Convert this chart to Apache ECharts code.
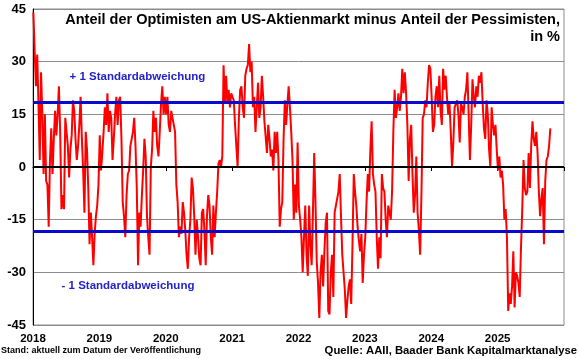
<!DOCTYPE html>
<html>
<head>
<meta charset="utf-8">
<script src="https://cdn.jsdelivr.net/npm/echarts@6/dist/echarts.min.js"></script>
<style>
html,body{margin:0;padding:0;background:#fff;}
#chart{width:580px;height:359px;}
</style>
</head>
<body>
<div id="chart"></div>
<script>
// Weekly AAII bull-bear spread (in %), one array per year
const y2018 = [44, 33, 23, 32, 18, 2, 27, 15, -2, 15, -4, -5, -17,
  2, 11, -2, 8, 16, 9, 15, 23, 10, -12, -8, -12, 14,
  10, 6, -3, 5, 9, 19, 16, 8, 2, 6, 12, 20, 8,
  -1, -13, 10, 5, -6, -22, -13, -20, -28, -19, -14, -11, -5];
const y2019 = [9, -1, 4, 10, 17, 12, 21, 10, 16, 14, 2, 8, 15,
  20, 12, 19, 20, 8, -10, -14, -20, -8, -2, -1, 6, 8,
  10, 14, 6, -6, -28, -13, -17, -8, -1, 8, 3, -14, -20,
  -25, 0, 5, 16, 10, 14, 6, 3, 10, 18, 23, 15, 20];
const y2020 = [15, 20, 12, 10, 16, 14, 12, 10, -5, -10, -20, -17, -19,
  -10, -13, -18, -25, -29, -20, -15, -3, -6, -14, -25, -15, -20,
  -26, -28, -13, -12, -18, -28, -14, -8, -11, -20, -25, -11, -20,
  -13, -7, 1, 2, 0, 3, 29, 18, 26, 18, 22, 17, 21];
const y2021 = [21, 19, 12, 6, 0, 14, 22, 23, 17, 14, 26, 28, 29,
  35, 27, 30, 17, 20, 10, 10, 24, 14, 17, 26, 20, 13,
  13, 4, 12, 8, 3, 5, -1, 10, 4, 10, 2, -17, -12,
  -10, 8, 19, 12, 18, 23, 17, 10, 2, -15, -5, -13, 7];
const y2022 = [-11, -15, -20, -30, -20, -11, -25, -31, -11, -22, -28, -13, 4,
  -10, -27, -33, -43, -30, -25, -34, -24, -16, -13, -41, -42, -30,
  -25, -37, -13, -11, -9, -7, -2, -14, -25, -30, -35, -43, -38,
  -34, -32, -39, -22, -2, -7, -11, -17, -21, -24, -19, -33, -25];
const y2023 = [-20, -10, -2, -7, 5, 13, -2, -5, -7, -20, -29, -20, -26,
  -2, -6, -7, -15, -20, -11, -13, -15, -7, 10, 22, 14, 17,
  21, 16, 20, 28, 21, 27, 21, 12, -4, 8, 12, -2, -13,
  -8, 3, -13, -18, -25, -8, 14, 15, 19, 17, 24, 29, 28];
const y2024 = [20, 10, 12, 20, 23, 17, 26, 16, 12, 28, 22, 26, 20,
  15, 18, 10, 0, 7, 17, 18, 19, 15, 7, 18, 17, 15,
  20, 22, 27, 15, 2, 12, 25, 20, 17, 23, 20, 26, 24,
  27, 18, 11, 8, 19, 15, 5, 0, 17, 12, 9, 12, 5];
const y2025 = [-1, 3, -3, -1, -5, -15, -12, -20, -41, -36, -39, -34, -24,
  -40, -30, -31, -33, -37, -23, -12, 2, -6, -8, -7, 4, -6,
  6, 13, 8, 6, 10, 4, -7, -14, -9, -6, -22, -4, 2, 3, 6, 11];

const years = [2018, 2019, 2020, 2021, 2022, 2023, 2024, 2025];
const yearly = [y2018, y2019, y2020, y2021, y2022, y2023, y2024, y2025];
const yTicks = [-45, -30, -15, 0, 15, 30, 45];
const sdUpper = 18.4;
const sdLower = -18.4;

const titleText = 'Anteil der Optimisten am US-Aktienmarkt minus Anteil der Pessimisten,\nin %';
const sdUpperLabel = '+ 1 Standardabweichung';
const sdLowerLabel = '- 1 Standardabweichung';
const standText = 'Stand: aktuell zum Datum der Veröffentlichung';
const sourceText = 'Quelle: AAII, Baader Bank Kapitalmarktanalyse';

// weekly observations: position within each year by week index
const seriesData = [];
yearly.forEach((arr, k) => {
  arr.forEach((v, i) => {
    seriesData.push([years[k] + (i + 0.3) / 52, v]);
  });
});

const FONT = 'Arial, "Liberation Sans", sans-serif';
const chart = echarts.init(document.getElementById('chart'), null, {renderer: 'canvas'});
chart.setOption({
  animation: false,
  backgroundColor: '#fff',
  grid: {left: 33, right: 16, top: 9, bottom: 34, show: true, borderColor: '#8c8c8c', borderWidth: 1},
  xAxis: {
    type: 'value', min: 2018, max: 2026, interval: 1,
    axisLine: {show: true, lineStyle: {color: '#000', width: 1}},
    axisTick: {show: true, length: 4, lineStyle: {color: '#000'}},
    splitLine: {show: false},
    axisLabel: {
      color: '#000', fontWeight: 'bold', fontSize: 11.5, fontFamily: FONT, margin: 8,
      formatter: v => (v >= 2026 ? '' : String(v))
    }
  },
  yAxis: {
    type: 'value', min: yTicks[0], max: yTicks[yTicks.length - 1], interval: 15,
    axisLine: {show: true, lineStyle: {color: '#000', width: 1}},
    axisTick: {show: false},
    splitLine: {show: true, lineStyle: {color: '#8c8c8c', width: 1}},
    axisLabel: {color: '#000', fontWeight: 'bold', fontSize: 13, fontFamily: FONT, margin: 7}
  },
  series: [
    {
      type: 'line', data: [], z: 1, silent: true,
      markLine: {
        symbol: 'none', silent: true, animation: false,
        label: {show: false},
        data: [
          {yAxis: 0, lineStyle: {color: '#000', width: 2, type: 'solid'}},
          {yAxis: sdUpper, lineStyle: {color: '#0a0acd', width: 3, type: 'solid'}},
          {yAxis: sdLower, lineStyle: {color: '#0a0acd', width: 3, type: 'solid'}}
        ]
      },
      markPoint: {
        symbol: 'circle', symbolSize: 0, silent: true,
        label: {show: true, position: 'right', distance: 0, color: '#2323c8', fontWeight: 'bold', fontSize: 11.5, fontFamily: FONT},
        data: [
          {coord: [2018.55, 25.6], label: {formatter: sdUpperLabel}},
          {coord: [2018.43, -33.8], label: {formatter: sdLowerLabel}}
        ]
      }
    },
    {
      type: 'line', data: seriesData, z: 3,
      showSymbol: false, symbol: 'none',
      lineStyle: {color: '#ff0000', width: 2},
      itemStyle: {color: '#ff0000'}
    }
  ],
  graphic: [
    {
      type: 'text', z: 10,
      style: {
        x: 560, y: 12, text: titleText, align: 'right', verticalAlign: 'top',
        font: 'bold 14.5px ' + FONT, fill: '#000', lineHeight: 16.5
      }
    },
    {
      type: 'text', z: 10,
      style: {x: 1, y: 351, text: standText, align: 'left', verticalAlign: 'middle', font: 'bold 9px ' + FONT, fill: '#000'}
    },
    {
      type: 'text', z: 10,
      style: {x: 577, y: 351, text: sourceText, align: 'right', verticalAlign: 'middle', font: 'bold 11.3px ' + FONT, fill: '#000'}
    }
  ]
});
</script>
</body>
</html>
